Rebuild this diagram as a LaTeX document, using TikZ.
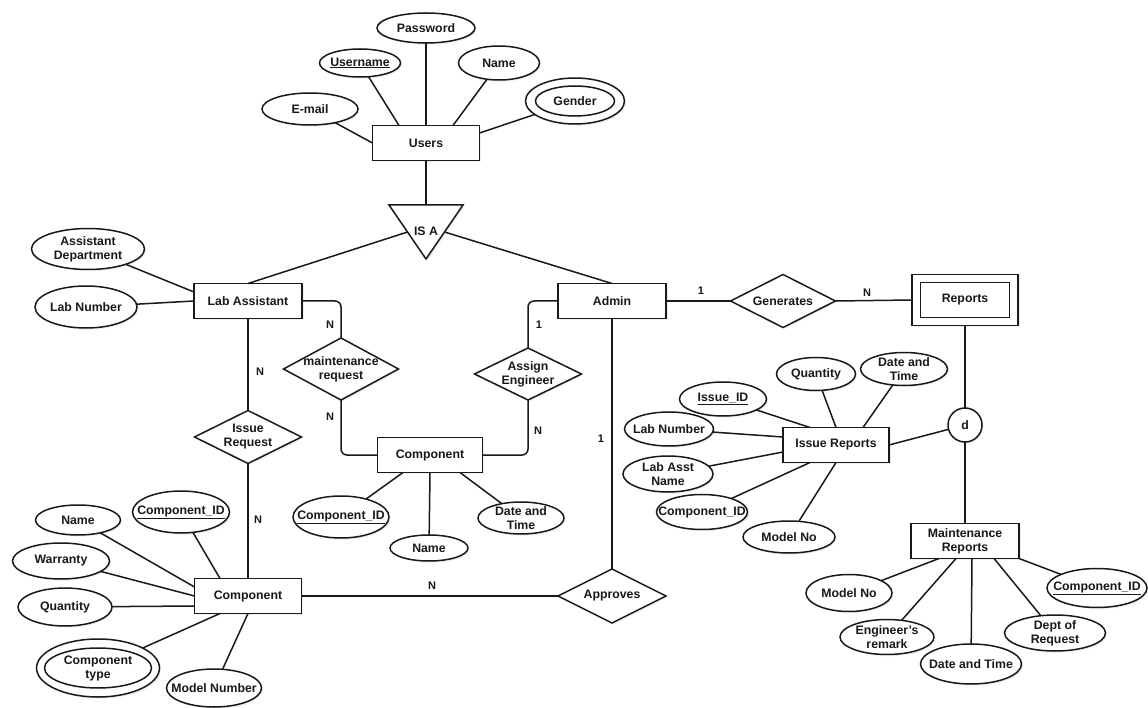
\documentclass[tikz,border=0pt]{standalone}
\usepackage{fontspec}
\setmainfont{Liberation Sans}
\usetikzlibrary{shapes.geometric,shadows}

\tikzset{
  txt/.style={font=\bfseries\fontsize{12.3}{14}\selectfont, align=center, inner sep=0pt, text=black!90},
  cardtxt/.style={font=\bfseries\fontsize{11}{12}\selectfont, inner sep=0pt, text=black!90},
  soft/.style={drop shadow={shadow xshift=1.6pt, shadow yshift=-1.6pt, opacity=0.12, fill=black!50}},
  plain/.style={draw=black!90, fill=white, line width=1.5pt, inner sep=0pt, outer sep=0pt},
  figure/.style={plain, soft},
  entity/.style n args={3}{figure, rectangle, minimum width=#1, minimum height=#2, label={[txt]center:{#3}}},
  attrib/.style n args={3}{figure, ellipse, minimum width=#1, minimum height=#2, label={[txt]center:{#3}}},
  relation/.style n args={3}{figure, diamond, minimum width=#1, minimum height=#2, label={[txt]center:{#3}}},
  link/.style={draw=black!90, line width=1.5pt},
  elbow/.style={link, rounded corners=6pt},
}

\begin{document}
\begin{tikzpicture}[x=1pt, y=-1pt]
\fill[white] (0,0) rectangle (1148,708);
\path[use as bounding box] (0,0) rectangle (1148,708);

% ---------- Users and its attributes ----------
\node[entity={107}{35}{Users}] (users) at (426,143) {};
\node[attrib={98}{30}{Password}] (password) at (426,28) {};
\node[attrib={81}{28}{\underline{Username}}] (username) at (360,63) {};
\node[attrib={81}{34}{Name}] (uname) at (499,63) {};
\node[attrib={96}{32}{E-mail}] (email) at (310,109) {};
\node[figure, ellipse, minimum width=99, minimum height=46] (gender) at (575,101) {};
\node[plain, ellipse, minimum width=79, minimum height=30, label={[txt]center:Gender}] (gender-in) at (gender) {};

% ---------- IS A specialisation ----------
\path[figure] (389,205) -- (463,205) -- (426,259) -- cycle;
\node[txt] (isa) at (426,231) {IS A};
\coordinate (isa-top) at (426,205);
\coordinate (isa-west) at (407.5,232);
\coordinate (isa-east) at (444.5,232);

% ---------- Lab Assistant side ----------
\node[entity={108}{35}{Lab Assistant}] (labasst) at (248,301) {};
\node[attrib={113}{41}{Assistant\\Department}] (asstdept) at (88,249) {};
\node[attrib={102}{42}{Lab Number}] (labnum) at (86,307) {};
\node[relation={115}{62}{maintenance\\request}] (maintreq) at (341,369) {};
\node[relation={107}{53}{Issue\\Request}] (issuereq) at (248,437) {};

% ---------- Component (maintenance) ----------
\node[entity={105}{35}{Component}] (compmid) at (430,455) {};
\node[attrib={96}{42}{\underline{Component\_ID}}] (cidmid) at (341,517) {};
\node[attrib={78}{26}{Name}] (namemid) at (429,548) {};
\node[attrib={86}{32}{Date and\\Time}] (dtmid) at (521,518) {};

% ---------- Admin side ----------
\node[entity={108}{35}{Admin}] (admin) at (612,301) {};
\node[relation={107}{52}{Assign\\Engineer}] (assign) at (528,374) {};
\node[relation={108}{54}{Approves}] (approves) at (612,596) {};
\node[relation={105}{53}{Generates}] (generates) at (783,301) {};

% ---------- Component (stock) ----------
\node[entity={107}{35}{Component}] (comp) at (248,596) {};
\node[attrib={85}{30}{Name}] (cname) at (78,520) {};
\node[attrib={97}{42}{\underline{Component\_ID}}] (cid) at (181,512) {};
\node[attrib={97}{36}{Warranty}] (warranty) at (61,561) {};
\node[attrib={94}{38}{Quantity}] (cqty) at (65,607) {};
\node[figure, ellipse, minimum width=123, minimum height=58] (ctype) at (98,668) {};
\node[plain, ellipse, minimum width=107, minimum height=40, label={[txt]center:{Component\\type}}] (ctype-in) at (ctype) {};
\node[attrib={95}{38}{Model Number}] (cmodel) at (214,688) {};

% ---------- Reports ----------
\node[figure, rectangle, minimum width=106, minimum height=51] (reports) at (965,300) {};
\node[plain, rectangle, minimum width=89, minimum height=35, label={[txt]center:Reports}] (reports-in) at (reports) {};
\node[figure, circle, minimum size=34, label={[txt]center:d}] (disj) at (965,425) {};

\node[entity={106}{35}{Issue Reports}] (issuerep) at (836,445) {};
\node[attrib={79}{33}{Quantity}] (iqty) at (816,374) {};
\node[attrib={87}{33}{Date and\\Time}] (idt) at (904,369) {};
\node[attrib={87}{34}{\underline{Issue\_ID}}] (iid) at (723,399) {};
\node[attrib={89}{34}{Lab Number}] (ilabnum) at (669,429) {};
\node[attrib={90}{36}{Lab Asst\\Name}] (iasst) at (668,474) {};
\node[attrib={91}{35}{Component\_ID}] (icid) at (702,512) {};
\node[attrib={92}{32}{Model No}] (imodel) at (789,537) {};

\node[entity={108}{35}{Maintenance\\Reports}] (mainrep) at (965,541) {};
\node[attrib={86}{37}{Model No}] (mmodel) at (849,593) {};
\node[attrib={94}{35}{Engineer's\\remark}] (mremark) at (887,637) {};
\node[attrib={101}{40}{Date and Time}] (mdt) at (971,664) {};
\node[attrib={101}{36}{Dept of\\Request}] (mdept) at (1055,633) {};
\node[attrib={100}{39}{\underline{Component\_ID}}] (mcid) at (1097,588) {};

% ---------- connectors: Users ----------
\draw[link] (email) -- (users.west);
\draw[link] (username) -- ([xshift=-27pt]users.north);
\draw[link] (password) -- (users.north);
\draw[link] (uname) -- ([xshift=27pt]users.north);
\draw[link] (gender) -- ([yshift=10pt]users.east);
\draw[link] (users.south) -- (isa-top);
\draw[link] (labasst.north) -- (isa-west);
\draw[link] (admin.north) -- (isa-east);

% ---------- connectors: Lab Assistant ----------
\draw[link] (asstdept) -- ([yshift=9pt]labasst.west);
\draw[link] (labnum) -- (labasst.west);
\draw[elbow] (labasst.east) -| (maintreq.north);
\draw[elbow] (maintreq.south) |- (compmid.west);
\draw[link] (labasst.south) -- (issuereq.north);
\draw[link] (issuereq.south) -- (comp.north);

% ---------- connectors: Admin ----------
\draw[elbow] (admin.west) -| (assign.north);
\draw[elbow] (assign.south) |- (compmid.east);
\draw[link] (admin.south) -- (approves.north);
\draw[link] (comp.east) -- (approves.west);
\draw[link] (admin.east) -- (generates.west);
\draw[link] (generates.east) -- (reports.west);

% ---------- connectors: Component attributes ----------
\draw[link] (cidmid) -- ([xshift=-27pt]compmid.south);
\draw[link] (namemid) -- (compmid.south);
\draw[link] (dtmid) -- ([xshift=30pt]compmid.south);

\draw[link] (cname) -- ([yshift=9pt]comp.west);
\draw[link] (warranty) -- (comp.west);
\draw[link] (cqty) -- ([yshift=-10pt]comp.west);
\draw[link] (cid) -- ([xshift=-28pt]comp.north);
\draw[link] (ctype) -- ([xshift=-28pt]comp.south);
\draw[link] (cmodel) -- (comp.south);

% ---------- connectors: Reports ----------
\draw[link] (reports.south) -- (disj.north);
\draw[link] (disj.south) -- (mainrep.north);
\draw[link] (disj) -- (issuerep.east);

\draw[link] (iqty) -- (issuerep.north);
\draw[link] (idt) -- ([xshift=27pt]issuerep.north);
\draw[link] (iid) -- ([xshift=-26pt]issuerep.north);
\draw[link] (ilabnum) -- ([yshift=8pt]issuerep.west);
\draw[link] (iasst) -- ([yshift=-7pt]issuerep.west);
\draw[link] (icid) -- ([xshift=-26pt]issuerep.south);
\draw[link] (imodel) -- (issuerep.south);

\draw[link] (mmodel) -- ([xshift=-26pt]mainrep.south);
\draw[link] (mremark) -- ([xshift=-9pt]mainrep.south);
\draw[link] (mdt) -- ([xshift=7pt]mainrep.south);
\draw[link] (mdept) -- ([xshift=29pt]mainrep.south);
\draw[link] (mcid) -- (mainrep.south east);

% ---------- cardinalities ----------
\node[cardtxt] (c1) at (330,325) {N};
\node[cardtxt] (c2) at (330,417) {N};
\node[cardtxt] (c3) at (539,325) {1};
\node[cardtxt] (c4) at (538,431) {N};
\node[cardtxt] (c5) at (260,372) {N};
\node[cardtxt] (c6) at (258,520) {N};
\node[cardtxt] (c7) at (601,439) {1};
\node[cardtxt] (c8) at (432,586) {N};
\node[cardtxt] (c9) at (701,291) {1};
\node[cardtxt] (c10) at (867,293) {N};
\end{tikzpicture}
\end{document}
